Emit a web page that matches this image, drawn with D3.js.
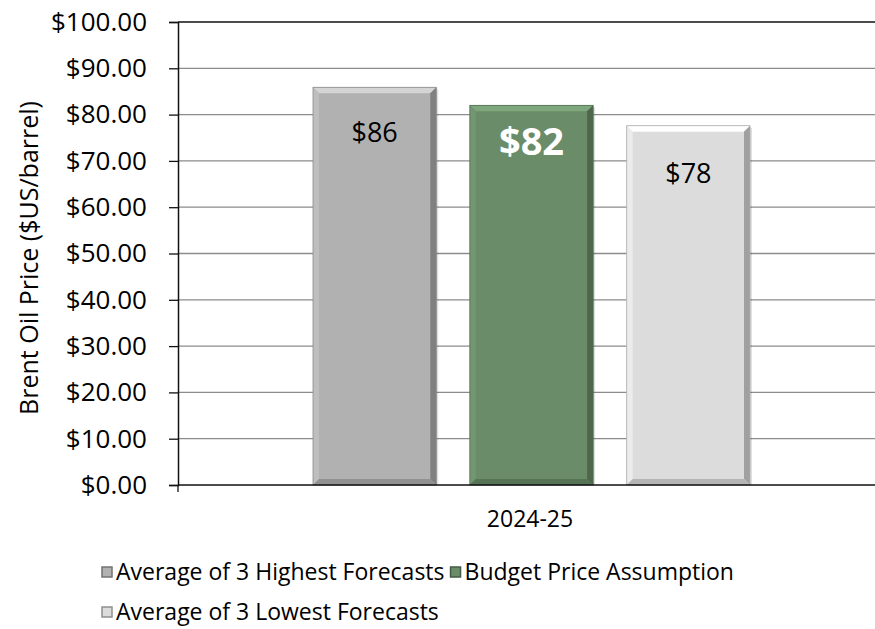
<!DOCTYPE html>
<html>
<head>
<meta charset="utf-8">
<script src="https://cdn.jsdelivr.net/npm/d3@7"></script>
<style>
  body { margin: 0; background: #fff; }
  text { font-family: "Open Sans", sans-serif; fill: #000; }
</style>
</head>
<body>
<svg id="chart" width="875" height="629"></svg>
<script>
// data
var category = "2024-25";
var seriesNames = ["Average of 3 Highest Forecasts", "Budget Price Assumption", "Average of 3 Lowest Forecasts"];
var seriesValues = [85.9, 82.0, 77.6];
var valueLabels = ["$86", "$82", "$78"];
var seriesColors = ["#b1b1b1", "#6a8c69", "#dcdcdc"];
var yTicks = [0, 10, 20, 30, 40, 50, 60, 70, 80, 90, 100];

var svg = d3.select("#chart");
var plotLeft = 178, plotRight = 882, plotTop = 22, plotBottom = 485;

var y = d3.scaleLinear().domain([0, 100]).range([plotBottom, plotTop]);
var x0 = d3.scaleBand().domain([category]).range([plotLeft, plotRight]);
var x1 = d3.scaleBand().domain(seriesNames).range([313, 750]).paddingInner(0.214);

// gridlines
svg.append("g")
  .selectAll("line")
  .data(yTicks.filter(function (d) { return d > 0 && d < 100; }))
  .enter().append("line")
  .attr("x1", plotLeft).attr("x2", plotRight)
  .attr("y1", function (d) { return y(d); })
  .attr("y2", function (d) { return y(d); })
  .attr("stroke", "#8c8c8c").attr("stroke-width", 1.3);

// top border line
svg.append("line")
  .attr("x1", plotLeft).attr("x2", plotRight)
  .attr("y1", y(100)).attr("y2", y(100))
  .attr("stroke", "#111").attr("stroke-width", 1.5);

// bars with bevel
var bev = 6;
var labelOffsets = [55, 50, 57];
var bars = svg.append("g").selectAll("g")
  .data(seriesNames)
  .enter().append("g");

bars.each(function (name, i) {
  var g = d3.select(this);
  var bx = x1(name), bw = x1.bandwidth();
  var by = y(seriesValues[i]), bh = plotBottom - by;
  var c = d3.color(seriesColors[i]);
  // soft shadow at right
  g.append("rect")
    .attr("x", bx + 2).attr("y", by + 2)
    .attr("width", bw).attr("height", bh - 2)
    .attr("fill", "#000").attr("opacity", 0.12);
  g.append("rect")
    .attr("x", bx).attr("y", by)
    .attr("width", bw).attr("height", bh)
    .attr("fill", c.formatHex());
  var x2 = bx + bw, y2 = by + bh;
  var faces = [
    { p: [[bx, by], [x2, by], [x2 - bev, by + bev], [bx + bev, by + bev]], f: c.brighter(0.5) },
    { p: [[bx, by], [bx + bev, by + bev], [bx + bev, y2 - bev], [bx, y2]], f: c.brighter(0.2) },
    { p: [[x2, by], [x2, y2], [x2 - bev, y2 - bev], [x2 - bev, by + bev]], f: c.darker(0.9) },
    { p: [[bx, y2], [x2, y2], [x2 - bev, y2 - bev], [bx + bev, y2 - bev]], f: c.darker(0.55) }
  ];
  faces.forEach(function (fc) {
    g.append("polygon")
      .attr("points", fc.p.map(function (p) { return p.join(","); }).join(" "))
      .attr("fill", fc.f.formatHex());
  });
  g.append("rect")
    .attr("x", bx).attr("y", by)
    .attr("width", bw).attr("height", bh)
    .attr("fill", "none").attr("stroke", c.darker(0.7).formatHex()).attr("stroke-width", 0.8);

  // value label
  var bold = i === 1;
  g.append("text")
    .attr("x", bx + bw / 2)
    .attr("y", by + labelOffsets[i])
    .attr("text-anchor", "middle")
    .style("font-size", bold ? "38px" : "27px")
    .style("font-weight", bold ? "bold" : "normal")
    .style("fill", bold ? "#fff" : "#000")
    .text(valueLabels[i]);
});

// zero line
svg.append("line")
  .attr("x1", plotLeft).attr("x2", plotRight)
  .attr("y1", plotBottom).attr("y2", plotBottom)
  .attr("stroke", "#111").attr("stroke-width", 1.5);

// y axis
var yAxis = svg.append("g")
  .attr("transform", "translate(" + plotLeft + ",0)")
  .call(d3.axisLeft(y).tickValues(yTicks).tickSize(9).tickPadding(22)
    .tickFormat(function (d) { return "$" + d3.format(".2f")(d); }));
yAxis.select(".domain").attr("stroke", "#111").attr("stroke-width", 1.5);
yAxis.selectAll(".tick line").attr("stroke", "#111").attr("stroke-width", 1.3);
yAxis.selectAll("text").style("font-size", "26px").attr("font-family", null).attr("fill", "#000");

// x axis
var xAxis = svg.append("g")
  .attr("transform", "translate(0," + plotBottom + ")")
  .call(d3.axisBottom(x0).tickSize(0).tickPadding(26));
xAxis.select(".domain").remove();
xAxis.selectAll("text").style("font-size", "23px").attr("font-family", null).attr("fill", "#000");
svg.append("line")
  .attr("x1", plotLeft).attr("x2", plotLeft)
  .attr("y1", plotBottom).attr("y2", plotBottom + 7)
  .attr("stroke", "#111").attr("stroke-width", 1.3);

// y axis title
svg.append("text")
  .attr("transform", "translate(29," + 258 + ") rotate(-90)")
  .attr("text-anchor", "middle")
  .attr("dy", "0.35em")
  .style("font-size", "25px")
  .text("Brent Oil Price ($US/barrel)");

// legend
var legendRows = [[0, 1], [2]];
var legendY = [572, 612];
legendRows.forEach(function (row, r) {
  var cx = 102;
  row.forEach(function (i) {
    var g = svg.append("g").attr("transform", "translate(" + cx + "," + legendY[r] + ")");
    var c = d3.color(seriesColors[i]);
    g.append("rect")
      .attr("x", 0).attr("y", -5).attr("width", 10).attr("height", 10)
      .attr("fill", c.formatHex())
      .attr("stroke", c.darker(1.2).formatHex())
      .attr("stroke-width", 1.5);
    var t = g.append("text")
      .attr("x", 14).attr("dy", "0.35em")
      .style("font-size", "23px")
      .text(seriesNames[i]);
    cx += 14 + t.node().getComputedTextLength() + 6;
  });
});
</script>
</body>
</html>
